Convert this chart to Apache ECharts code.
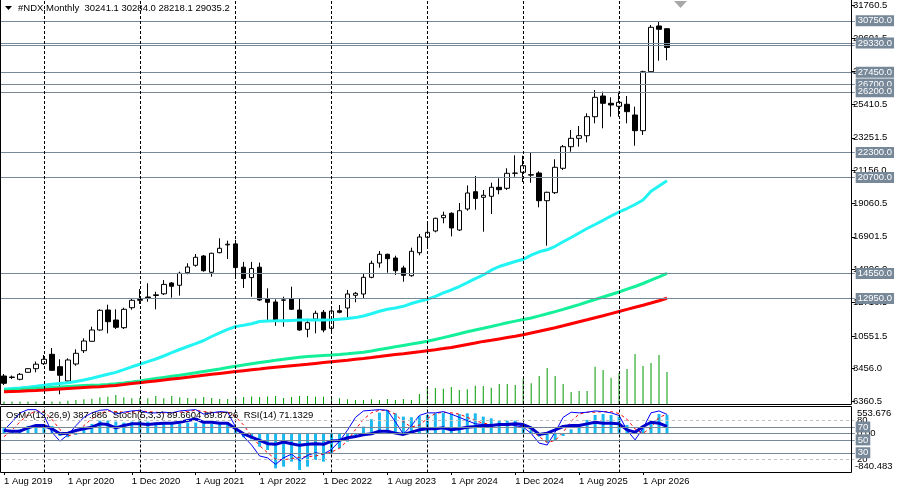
<!DOCTYPE html>
<html>
<head>
<meta charset="UTF-8">
<title>#NDX,Monthly</title>
<script src="https://cdn.jsdelivr.net/npm/echarts@6/dist/echarts.min.js"></script>
<style>
html, body { margin: 0; padding: 0; background: #fff; }
#main { width: 898px; height: 492px; }
</style>
</head>
<body>
<div id="main"></div>
<script>
var FONT = 'Liberation Sans';
var LEVEL_COLOR = '#778899';

// monthly bars, first bar = Aug 2019
var monthNames = ['Jan', 'Feb', 'Mar', 'Apr', 'May', 'Jun', 'Jul', 'Aug', 'Sep', 'Oct', 'Nov', 'Dec'];
var firstYear = 2019, firstMonth = 7;
var slotCount = 107; // bars + empty space on the right

var opens = [7983, 7887, 7771, 8220, 8451, 8771, 9374, 8579, 7663, 8752,
  9605, 10207, 10931, 12213, 11572, 11079, 12361, 12835, 13046, 13142,
  13251, 13944, 13797, 14605, 15078, 15674, 14630, 15886, 16385, 16450,
  14957, 14290, 14957, 12918, 12726, 12840, 12918, 12213, 10976, 11636,
  12066, 11040, 12168, 12341, 13155, 13238, 14309, 15226, 15784, 15546,
  14905, 14412, 15886, 16873, 17277, 18129, 18411, 17341, 18687, 19795,
  19436, 19501, 20078, 20013, 20974, 21038, 20880, 20993, 19218, 19731,
  21295, 22679, 23217, 23384, 24602, 25928, 25461, 25268, 25397, 24711,
  23705, 27486, 30415, 30241.1];
var highs = [8111, 8015, 8175, 8496, 8905, 9329, 9778, 9054, 9118, 9694,
  10399, 11143, 12258, 12553, 12258, 12361, 12963, 13559, 13925, 13386,
  14130, 14008, 14669, 15207, 15803, 15738, 15886, 16809, 16661, 16706,
  15296, 15296, 15252, 13604, 12899, 13065, 13707, 12918, 11655, 12168,
  12213, 12258, 12534, 13495, 13367, 14520, 15373, 15995, 15822, 15693,
  15053, 16207, 17085, 17873, 18129, 18514, 18475, 19072, 20199, 20801,
  19904, 20373, 20654, 21295, 22127, 22102, 22294, 21102, 19795, 21872,
  22788, 23749, 24006, 24819, 26313, 26204, 25845, 26204, 25928, 25243,
  27550, 30479, 30735, 30284.0];
var lows = [7406, 7791, 7707, 8207, 8220, 8688, 8304, 6810, 7618, 8643,
  9457, 10181, 10886, 10720, 10995, 10995, 12232, 12598, 12745, 12258,
  13174, 13001, 13136, 14502, 14989, 14669, 14348, 15848, 15482, 14348,
  13622, 13065, 12790, 11463, 11200, 11142, 12213, 10886, 10463, 10720,
  10784, 10720, 12002, 11694, 12707, 12982, 14245, 14925, 14605, 14456,
  14027, 14348, 15720, 16168, 17193, 17770, 16931, 17277, 18578, 18642,
  17232, 18366, 19629, 19904, 20756, 20417, 20372, 18795, 16334, 19648,
  21186, 22358, 22679, 22961, 24179, 23858, 24602, 24602, 24179, 22743,
  23429, 27422, 28191, 28218.1];
var closes = [7515, 7919, 8092, 8451, 8739, 9054, 8348, 8028, 9009, 9438,
  10226, 10931, 12194, 11463, 11104, 12258, 12835, 12886, 13014, 13187,
  13854, 13733, 14566, 14969, 15591, 14732, 15848, 16168, 16430, 14931,
  14226, 14867, 12854, 12707, 11553, 12860, 12258, 10931, 11399, 12002,
  10931, 12149, 12066, 13238, 13283, 14309, 15207, 15784, 15502, 14732,
  14437, 15976, 16892, 17193, 18091, 18283, 17469, 18578, 19712, 19366,
  19565, 20078, 19924, 20974, 20990, 21461, 20860, 19218, 19757, 21359,
  22679, 23217, 23384, 24602, 25845, 25461, 25352, 25525, 24923, 23705,
  27486, 30331, 30203, 29035.2];

// moving averages as drawn (aqua, spring green, red)
var maFast = [7137, 7176, 7214, 7265, 7323, 7387, 7451, 7509, 7554, 7637,
  7727, 7836, 7964, 8092, 8214, 8393, 8573, 8733, 8900, 9073,
  9265, 9476, 9682, 9874, 10053, 10258, 10515, 10752, 10976, 11156,
  11239, 11329, 11476, 11515, 11521, 11528, 11547, 11566, 11572, 11572,
  11572, 11585, 11624, 11662, 11726, 11829, 11970, 12130, 12258, 12341,
  12450, 12630, 12777, 12899, 13091, 13315, 13495, 13719, 13969, 14225,
  14456, 14764, 15001, 15161, 15321, 15462, 15725, 15943, 16071, 16296,
  16590, 16860, 17148, 17436, 17693, 17962, 18238, 18494, 18718, 18975,
  19263, 19821, 20160, 20500];
var maMid = [7067, 7092, 7118, 7150, 7182, 7214, 7246, 7278, 7310, 7342,
  7368, 7387, 7406, 7445, 7490, 7541, 7599, 7663, 7740, 7817,
  7893, 7964, 8034, 8111, 8188, 8272, 8355, 8438, 8522, 8605,
  8688, 8765, 8842, 8919, 8989, 9060, 9124, 9188, 9239, 9271,
  9303, 9329, 9361, 9406, 9457, 9508, 9585, 9675, 9765, 9855,
  9944, 10028, 10117, 10207, 10322, 10444, 10566, 10688, 10816, 10931,
  11040, 11156, 11277, 11399, 11500, 11600, 11700, 11835, 11970, 12111,
  12252, 12405, 12559, 12726, 12886, 13046, 13207, 13367, 13546, 13719,
  13912, 14123, 14341, 14565];
var maSlow = [6970, 6990, 7009, 7035, 7060, 7086, 7118, 7150, 7182, 7214,
  7246, 7272, 7297, 7336, 7381, 7432, 7496, 7554, 7611, 7669,
  7727, 7791, 7842, 7906, 7970, 8034, 8092, 8150, 8208, 8265,
  8323, 8381, 8432, 8490, 8541, 8592, 8643, 8688, 8739, 8791,
  8842, 8893, 8945, 8996, 9053, 9105, 9162, 9226, 9291, 9355,
  9412, 9476, 9540, 9605, 9669, 9739, 9810, 9906, 10002, 10098,
  10201, 10278, 10361, 10444, 10527, 10624, 10739, 10848, 10963, 11079,
  11200, 11329, 11457, 11585, 11720, 11848, 11982, 12117, 12252, 12386,
  12521, 12662, 12809, 12963];

var volumes = [2500, 2500, 2500, 2500, 2500, 2500, 2500, 2500, 3300, 4000,
  4700, 5300, 6700, 7300, 9000, 6700, 5700, 6000, 5700, 8000,
  5700, 8000, 6700, 6000, 5500, 7000, 6000, 5000, 5000, 7000,
  7000, 7500, 7000, 7500, 8000, 6000, 7000, 8000, 8000, 7300,
  7300, 8000, 5700, 4700, 4000, 4000, 4700, 4000, 5000, 4000,
  5000, 4000, 10000, 16700, 16000, 15300, 17000, 14000, 14700, 18300,
  18000, 16300, 20000, 20000, 19000, 25300, 20700, 28000, 36000, 28000,
  20000, 12000, 13000, 13000, 37300, 34000, 26300, 30700, 35000, 50000,
  38000, 41000, 49000, 32000];

var osma = [105, 70, 84, 154, 175, 175, 154, -56, -84, -35,
  140, 196, 266, 266, 245, 224, 245, 266, 245, 224,
  210, 210, 196, 224, 224, 210, 196, 196, 196, 70,
  -84, -126, -280, -350, -734, -699, -594, -769, -699, -559,
  -594, -419, -315, -175, -35, 140, 294, 433, 489, 419,
  350, 336, 363, 384, 419, 433, 405, 405, 419, 419,
  350, 315, 266, 266, 266, 196, 105, -70, -196, -140,
  -56, 84, 154, 280, 384, 405, 384, 350, 175, 35,
  105, 245, 405, 387.886];
var stochMain = [65, 78, 92, 97, 97, 88, 62, 48, 58, 72,
  85, 92, 96, 97, 90, 93, 95, 96, 92, 92,
  93, 92, 95, 96, 97, 90, 92, 94, 93, 70,
  55, 42, 25, 22, 12, 22, 28, 18, 26, 30,
  28, 35, 48, 65, 85, 95, 96, 97, 96, 78,
  59, 72, 88, 92, 92, 94, 90, 85, 80, 75,
  74, 72, 73, 75, 72, 70, 60, 45, 42, 62,
  85, 93, 92, 93, 95, 94, 92, 88, 65, 50,
  68, 92, 95, 89.6604];
var stochSignal = [55, 65, 78, 89, 95, 94, 82, 66, 56, 60,
  72, 83, 91, 95, 94, 93, 93, 95, 94, 93,
  92, 92, 93, 94, 96, 94, 93, 92, 93, 86,
  73, 56, 41, 30, 20, 19, 21, 23, 24, 25,
  28, 31, 37, 49, 66, 82, 92, 96, 96, 90,
  78, 70, 73, 83, 91, 93, 92, 90, 85, 80,
  76, 74, 73, 73, 73, 72, 66, 55, 46, 49,
  62, 79, 90, 93, 93, 94, 94, 91, 82, 67,
  60, 69, 85, 89.8726];
var rsi = [64.6, 63.6, 63.6, 68.7, 72.3, 72.3, 67.2, 59.5, 60.5, 64.6,
  67.2, 69.7, 74.9, 73.8, 68.7, 72.3, 74.9, 74.9, 73.8, 74.9,
  75.9, 75.9, 77.4, 80, 82.6, 77.4, 77.4, 75.9, 75.9, 67.2,
  59.5, 54.4, 49.2, 44.1, 43.1, 46.7, 44.1, 41.5, 43.1, 44.1,
  43.1, 48.2, 49.2, 53.3, 55.4, 57.9, 59.5, 63.6, 63.6, 60.5,
  58.5, 62, 65.6, 67.2, 67.2, 68.7, 65.6, 67.2, 69.7, 70.8,
  72.3, 72.3, 73.8, 73.8, 74.9, 73.8, 68.7, 58.5, 60.5, 65.6,
  70.8, 72.3, 72.3, 74.9, 77.4, 75.9, 75.9, 74.9, 65.6, 62,
  70.8, 77.4, 75.9, 71.1329];

var priceTicks = [6360.5, 8456.0, 10551.5, 12710.5, 14806.0, 16901.5, 19060.5,
  21156.0, 23251.5, 25410.5, 27506.0, 29601.5, 31760.5];
var priceLevels = [30750, 29330, 27450, 26700, 26200, 22300, 20700, 14550, 12950];
var channelLow = 29160;
var oscLevels = [70, 50, 30];
var oscDashed = [80, 20];
var osmaRange = ['553.676', '-840.483'];
var januaryBars = [5, 17, 29, 41, 53, 65, 77];

var categories = [];
for (var i = 0; i < slotCount; i++) {
  if (i < opens.length) {
    var m = firstMonth + i;
    categories.push('1 ' + monthNames[m % 12] + ' ' + (firstYear + Math.floor(m / 12)));
  } else {
    categories.push('p' + i);
  }
}
var candles = opens.map(function (o, i) { return [o, closes[i], lows[i], highs[i]]; });
var last = opens.length - 1;

var headerText = '#NDX,Monthly  ' + [opens[last], highs[last], lows[last], closes[last]]
  .map(function (v) { return v.toFixed(1); }).join(' ');
var indText = 'OsMA(12,26,9) ' + osma[last].toFixed(3) +
  '  Stoch(5,3,3) ' + stochMain[last].toFixed(4) + ' ' + stochSignal[last].toFixed(4) +
  '  RSI(14) ' + rsi[last].toFixed(4);

var boxLabel = {
  show: true, position: 'end', distance: 1,
  color: '#fff', backgroundColor: LEVEL_COLOR, padding: [1, 2, 0, 2],
  fontSize: 9.5, fontFamily: FONT
};
var yearLine = function (k) {
  return { xAxis: categories[k], lineStyle: { color: '#000', type: [3, 2], width: 1 }, label: { show: false } };
};

var priceMarks = priceLevels.map(function (v) { return { yAxis: v }; });
priceMarks.push({ yAxis: channelLow, label: { show: false } });
januaryBars.forEach(function (k) { priceMarks.push(yearLine(k)); });

var oscMarks = oscLevels.map(function (v) { return { yAxis: v }; });
oscDashed.forEach(function (v) {
  oscMarks.push({ yAxis: v, label: { show: false }, lineStyle: { color: '#c0c0c0', type: [3, 3], width: 1 } });
});
var osmaMarks = [{ yAxis: 0, label: { show: false } }];
januaryBars.forEach(function (k) { osmaMarks.push(yearLine(k)); });

var chart = echarts.init(document.getElementById('main'));
var option = {
  animation: false,
  backgroundColor: '#fff',
  textStyle: { fontFamily: FONT },
  grid: [
    { left: -1.3, top: 0, width: 856, height: 404 },
    { left: -1.3, top: 406.5, width: 856, height: 66 }
  ],
  xAxis: [
    { type: 'category', gridIndex: 0, data: categories, boundaryGap: true, show: false },
    {
      type: 'category', gridIndex: 1, data: categories, boundaryGap: true,
      axisLine: { show: false },
      axisTick: {
        show: true, length: 3, alignWithLabel: true, lineStyle: { color: '#000' },
        interval: function (idx) { return idx % 8 === 0 && idx < opens.length; }
      },
      axisLabel: {
        interval: function (idx) { return idx % 8 === 0 && idx < opens.length; },
        align: 'left', margin: 4, color: '#000', fontSize: 9.5, fontFamily: FONT
      },
      splitLine: { show: false }
    }
  ],
  yAxis: [
    {
      type: 'value', gridIndex: 0, position: 'right', offset: -3.7,
      min: 6188.6, max: 32081,
      axisLine: { show: false }, splitLine: { show: false },
      axisTick: { show: true, length: 4, customValues: priceTicks, lineStyle: { color: '#000' } },
      axisLabel: {
        customValues: priceTicks, margin: 2, color: '#000', fontSize: 9.5, fontFamily: FONT,
        formatter: function (v) { return v.toFixed(1); }
      }
    },
    { type: 'value', gridIndex: 0, min: 0, max: 404000, show: false },
    {
      type: 'value', gridIndex: 1, position: 'right', offset: -3.7,
      min: -0.7, max: 101.9,
      axisLine: { show: false }, splitLine: { show: false }, axisTick: { show: false },
      axisLabel: { customValues: oscDashed, margin: 6, color: '#000', fontSize: 9.5, fontFamily: FONT }
    },
    {
      type: 'value', gridIndex: 1, position: 'right', offset: -3.7,
      min: -821.7, max: 561.7,
      axisLine: { show: false }, splitLine: { show: false }, axisTick: { show: false },
      axisLabel: {
        customValues: [0], margin: 6, color: '#000', fontSize: 9.5, fontFamily: FONT,
        formatter: function () { return '0.00'; }
      }
    }
  ],
  series: [
    {
      name: 'Volume', type: 'bar', xAxisIndex: 0, yAxisIndex: 1, data: volumes,
      barWidth: 1, itemStyle: { color: '#009900' }, silent: true, z: 1
    },
    {
      name: '#NDX', type: 'candlestick', xAxisIndex: 0, yAxisIndex: 0, data: candles,
      barWidth: 5, silent: true, z: 2,
      itemStyle: { color: '#fff', color0: '#000', borderColor: '#000', borderColor0: '#000', borderWidth: 1 },
      markLine: {
        silent: true, symbol: ['none', 'none'], animation: false,
        label: Object.assign({}, boxLabel, { formatter: function (p) { return p.value.toFixed(1); } }),
        lineStyle: { color: LEVEL_COLOR, width: 1, type: 'solid' },
        data: priceMarks
      }
    },
    {
      name: 'MA fast', type: 'line', xAxisIndex: 0, yAxisIndex: 0, data: maFast,
      showSymbol: false, symbol: 'none', silent: true, z: 3,
      lineStyle: { color: '#22f4f4', width: 3 }
    },
    {
      name: 'MA mid', type: 'line', xAxisIndex: 0, yAxisIndex: 0, data: maMid,
      showSymbol: false, symbol: 'none', silent: true, z: 3,
      lineStyle: { color: '#14f09a', width: 3 }
    },
    {
      name: 'MA slow', type: 'line', xAxisIndex: 0, yAxisIndex: 0, data: maSlow,
      showSymbol: false, symbol: 'none', silent: true, z: 3,
      lineStyle: { color: '#ff0000', width: 3 }
    },
    {
      name: 'OsMA', type: 'bar', xAxisIndex: 1, yAxisIndex: 3, data: osma,
      barWidth: 3, itemStyle: { color: '#1cb9ef' }, silent: true, z: 1,
      markLine: {
        silent: true, symbol: ['none', 'none'], animation: false,
        label: { show: false },
        lineStyle: { color: LEVEL_COLOR, width: 1, type: 'solid' },
        data: osmaMarks
      }
    },
    {
      name: 'Stoch signal', type: 'line', xAxisIndex: 1, yAxisIndex: 2, data: stochSignal,
      showSymbol: false, symbol: 'none', silent: true, z: 3,
      lineStyle: { color: '#ff0000', width: 1, type: [3, 3] }
    },
    {
      name: 'Stoch', type: 'line', xAxisIndex: 1, yAxisIndex: 2, data: stochMain,
      showSymbol: false, symbol: 'none', silent: true, z: 3,
      lineStyle: { color: '#0000ff', width: 1 }
    },
    {
      name: 'RSI', type: 'line', xAxisIndex: 1, yAxisIndex: 2, data: rsi,
      showSymbol: false, symbol: 'none', silent: true, z: 4,
      lineStyle: { color: '#0000cc', width: 3 },
      markLine: {
        silent: true, symbol: ['none', 'none'], animation: false,
        label: Object.assign({}, boxLabel, { formatter: function (p) { return String(p.value); } }),
        lineStyle: { color: LEVEL_COLOR, width: 1, type: 'solid' },
        data: oscMarks
      }
    }
  ],
  graphic: [
    { type: 'polyline', z: 100, silent: true, shape: { points: [[0.5, 0], [0.5, 404.5], [851.5, 404.5], [851.5, 0]] },
      style: { stroke: '#000', lineWidth: 1, fill: null } },
    { type: 'rect', z: 100, silent: true, shape: { x: 0.5, y: 406.5, width: 851, height: 66 },
      style: { stroke: '#000', lineWidth: 1, fill: null } },
    { type: 'polygon', z: 100, silent: true, shape: { points: [[5, 6], [12, 6], [8.5, 10]] }, style: { fill: '#000' } },
    { type: 'polygon', z: 100, silent: true, shape: { points: [[674, 1], [687, 1], [680.5, 8]] }, style: { fill: '#a8a8a8' } },
    { type: 'text', z: 100, silent: true, left: 18, top: 3,
      style: { text: headerText, fill: '#000', font: '9.5px "' + FONT + '"' } },
    { type: 'text', z: 100, silent: true, left: 6, top: 410,
      style: { text: indText, fill: '#000', font: '9.5px "' + FONT + '"' } },
    { type: 'text', z: 100, silent: true, left: 857, top: 408,
      style: { text: osmaRange[0], fill: '#000', font: '9.5px "' + FONT + '"' } },
    { type: 'text', z: 100, silent: true, left: 855, top: 461.5,
      style: { text: osmaRange[1], fill: '#000', font: '9.5px "' + FONT + '"' } }
  ]
};
chart.setOption(option);
</script>
</body>
</html>
